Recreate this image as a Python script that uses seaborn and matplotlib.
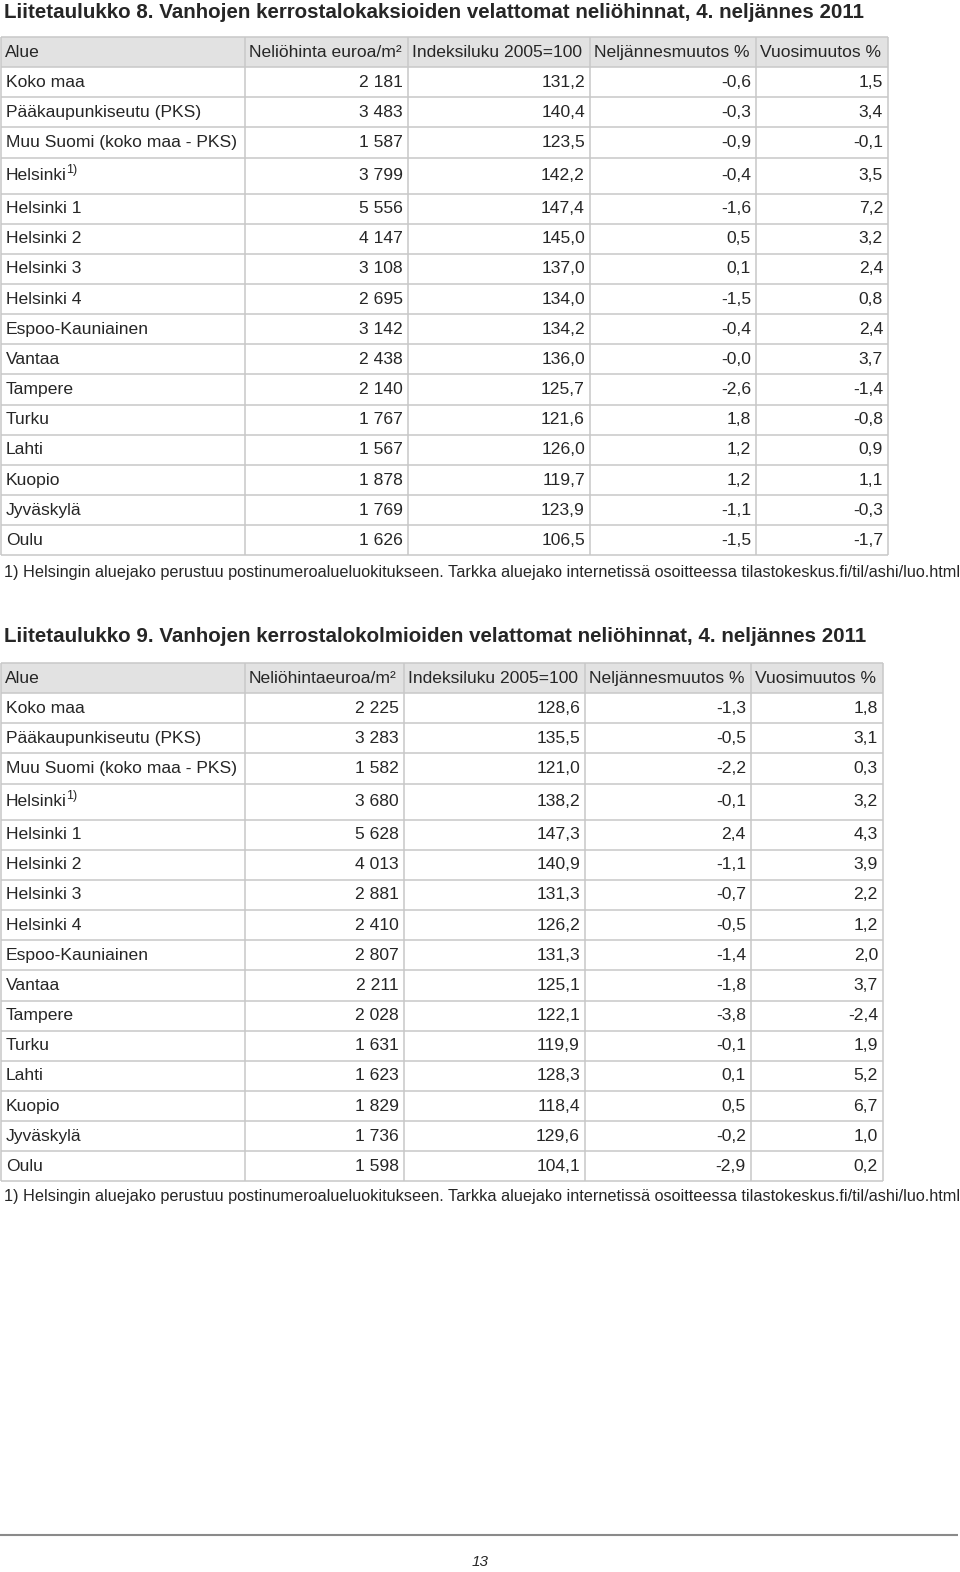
import numpy as np
import matplotlib
matplotlib.use("Agg")
import matplotlib.pyplot as plt
import seaborn as sns

areas = ["Koko maa", "Pääkaupunkiseutu (PKS)", "Muu Suomi (koko maa - PKS)", "Helsinki",
         "Helsinki 1", "Helsinki 2", "Helsinki 3", "Helsinki 4", "Espoo-Kauniainen", "Vantaa",
         "Tampere", "Turku", "Lahti", "Kuopio", "Jyväskylä", "Oulu"]

title8 = "Liitetaulukko 8. Vanhojen kerrostalokaksioiden velattomat neliöhinnat, 4. neljännes 2011"
headers8 = ["Alue", "Neliöhinta euroa/m²", "Indeksiluku 2005=100", "Neljännesmuutos %", "Vuosimuutos %"]
price8 = [2181, 3483, 1587, 3799, 5556, 4147, 3108, 2695, 3142, 2438, 2140, 1767, 1567, 1878, 1769, 1626]
index8 = [131.2, 140.4, 123.5, 142.2, 147.4, 145.0, 137.0, 134.0, 134.2, 136.0, 125.7, 121.6, 126.0, 119.7, 123.9, 106.5]
quarter8 = [-0.6, -0.3, -0.9, -0.4, -1.6, 0.5, 0.1, -1.5, -0.4, -0.0, -2.6, 1.8, 1.2, 1.2, -1.1, -1.5]
year8 = [1.5, 3.4, -0.1, 3.5, 7.2, 3.2, 2.4, 0.8, 2.4, 3.7, -1.4, -0.8, 0.9, 1.1, -0.3, -1.7]

title9 = "Liitetaulukko 9. Vanhojen kerrostalokolmioiden velattomat neliöhinnat, 4. neljännes 2011"
headers9 = ["Alue", "Neliöhintaeuroa/m²", "Indeksiluku 2005=100", "Neljännesmuutos %", "Vuosimuutos %"]
price9 = [2225, 3283, 1582, 3680, 5628, 4013, 2881, 2410, 2807, 2211, 2028, 1631, 1623, 1829, 1736, 1598]
index9 = [128.6, 135.5, 121.0, 138.2, 147.3, 140.9, 131.3, 126.2, 131.3, 125.1, 122.1, 119.9, 128.3, 118.4, 129.6, 104.1]
quarter9 = [-1.3, -0.5, -2.2, -0.1, 2.4, -1.1, -0.7, -0.5, -1.4, -1.8, -3.8, -0.1, 0.1, 0.5, -0.2, -2.9]
year9 = [1.8, 3.1, 0.3, 3.2, 4.3, 3.9, 2.2, 1.2, 2.0, 3.7, -2.4, 1.9, 5.2, 6.7, 1.0, 0.2]

footnote = ("1) Helsingin aluejako perustuu postinumeroalueluokitukseen. "
            "Tarkka aluejako internetissä osoitteessa tilastokeskus.fi/til/ashi/luo.html")
page_no = "13"

sns.set_theme(style="white")
plt.rcParams["font.family"] = ["Liberation Sans", "DejaVu Sans"]

GRID = "#c8c8c8"
HEAD = "#e2e2e2"
FS = 12.6


def fmt_int(v):
    return f"{v:,}".replace(",", " ")


def fmt_dec(v):
    return f"{v:.1f}".replace(".", ",")


fig = plt.figure(figsize=(9.6, 15.72), dpi=100)
ax = fig.add_axes([0, 0, 1, 1])
ax.set_xlim(0, 960)
ax.set_ylim(1572, 0)
ax.axis("off")
renderer = fig.canvas.get_renderer()


def draw_table(title, title_y, top, edges, headers, cols, foot_y, row_h=30.15, hel_h=36.0):
    ax.text(4, title_y, title, fontsize=14.8, fontweight="bold", va="center_baseline", ha="left")
    heights = [row_h] + [row_h] * 3 + [hel_h] + [row_h] * 12
    ys = np.concatenate([[top], top + np.cumsum(heights)])
    left, right = edges[0], edges[-1]
    ax.fill_between([left, right], ys[0], ys[1], color=HEAD, lw=0, zorder=0)
    ax.hlines(ys, left, right, color=GRID, lw=1.1, zorder=1)
    ax.vlines(edges, ys[0], ys[-1], color=GRID, lw=1.1, zorder=1)
    for j, h in enumerate(headers):
        ax.text(edges[j] + 4, (ys[0] + ys[1]) / 2 - 1.5, h, fontsize=FS, va="center_baseline", ha="left")
    for i, name in enumerate(areas):
        yc = (ys[i + 1] + ys[i + 2]) / 2 - 1.5
        t = ax.text(edges[0] + 5, yc, name, fontsize=FS, va="center_baseline", ha="left")
        if name == "Helsinki":
            bb = t.get_window_extent(renderer).transformed(ax.transData.inverted())
            ax.text(bb.x1 - 0.5, yc - 6, "1)", fontsize=9, va="center_baseline", ha="left")
        for j, col in enumerate(cols):
            ax.text(edges[j + 2] - 5, yc, col[i], fontsize=FS, va="center_baseline", ha="right")
    ax.text(4, foot_y, footnote, fontsize=11.68, va="center_baseline", ha="left")


cols8 = [[fmt_int(v) for v in price8], [fmt_dec(v) for v in index8],
         [fmt_dec(v) for v in quarter8], [fmt_dec(v) for v in year8]]
cols9 = [[fmt_int(v) for v in price9], [fmt_dec(v) for v in index9],
         [fmt_dec(v) for v in quarter9], [fmt_dec(v) for v in year9]]

draw_table(title8, 10, 37, [1, 245, 408, 590, 756, 888], headers8, cols8, 571)
draw_table(title9, 635, 663, [1, 245, 404, 585, 751, 883], headers9, cols9, 1195)

ax.hlines(1535, 0, 958, color="#8a8a8a", lw=1.5)
ax.text(480, 1560, page_no, fontsize=11, style="italic", ha="center", va="center_baseline")

fig.savefig("out.png", dpi=100)
